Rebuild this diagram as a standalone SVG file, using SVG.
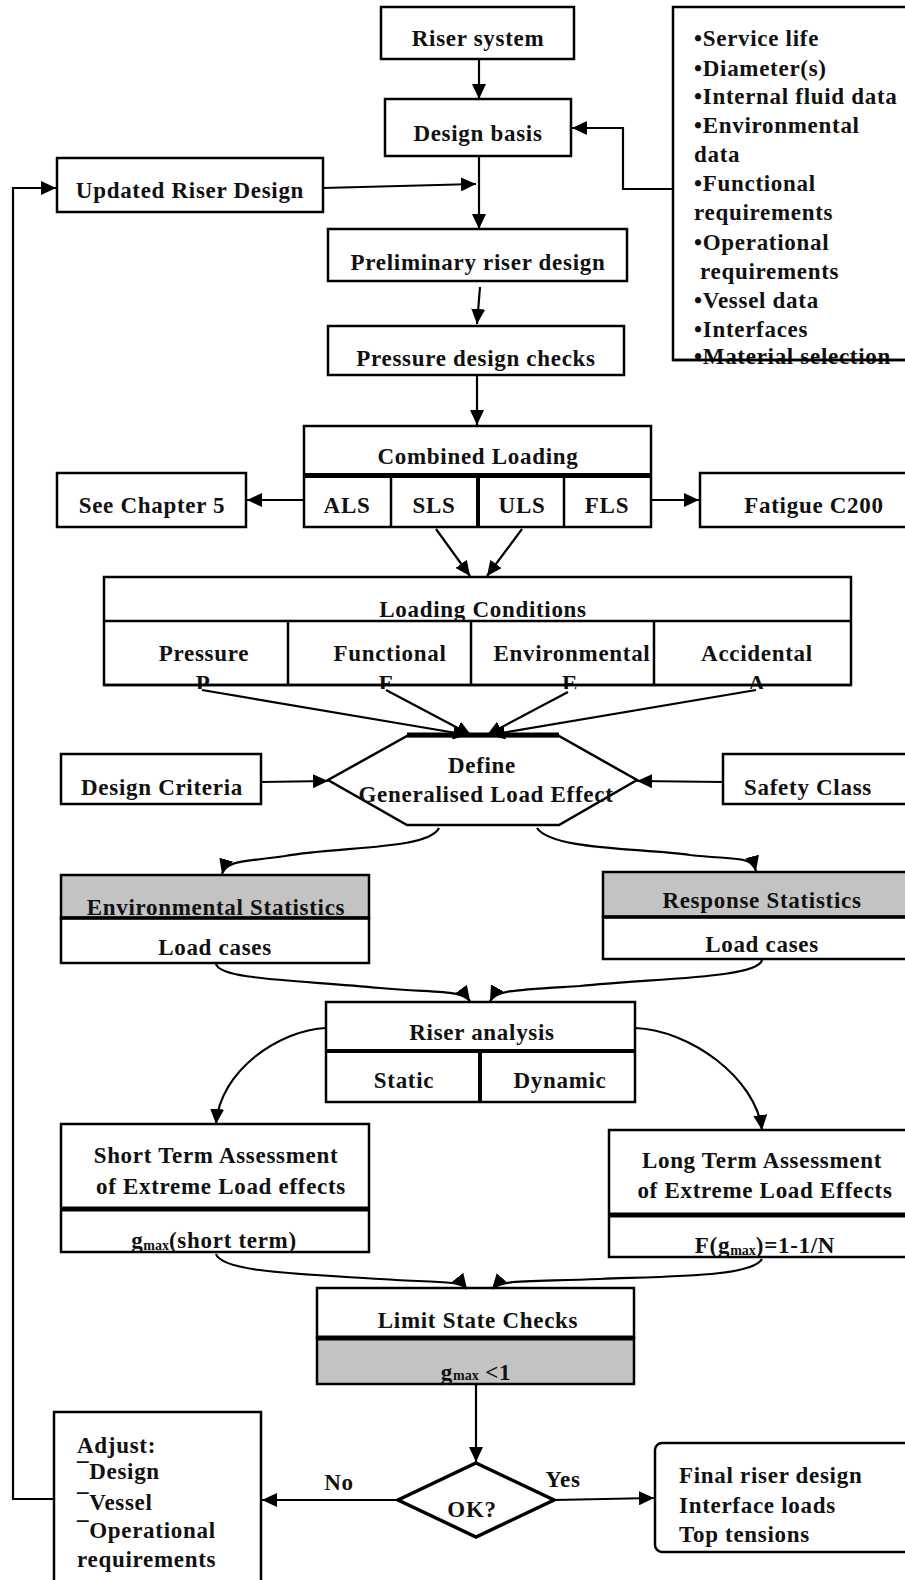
<svg xmlns="http://www.w3.org/2000/svg" width="905" height="1580" viewBox="0 0 905 1580">
<style>
.t{font-family:"Liberation Serif","Times New Roman",serif;font-weight:bold;font-size:23px;letter-spacing:0.7px;fill:#111;}
.c{text-anchor:middle;}
.sub{font-size:14px;letter-spacing:0;}
.b{fill:#fff;stroke:#000;stroke-width:2.5;}
.g{fill:#c3c3c3;stroke:#000;stroke-width:2.5;}
.ln{fill:none;stroke:#000;stroke-width:2.5;}
.thick{fill:none;stroke:#000;stroke-width:5;}
.cn{fill:none;stroke:#000;stroke-width:2.2;marker-end:url(#ah);}
</style>
<defs>
<marker id="ah" markerUnits="userSpaceOnUse" markerWidth="16" markerHeight="14" refX="15" refY="7" orient="auto">
<path d="M0,0 L15,7 L0,14 z" fill="#000"/>
</marker>
<clipPath id="lcclip"><rect x="100" y="570" width="760" height="119"/></clipPath>
</defs>
<rect width="905" height="1580" fill="#fff"/>

<g id="riser-system"><rect class="b" x="381" y="7" width="193" height="52"/><text class="t c" x="478" y="46">Riser system</text></g>
<g id="design-basis"><rect class="b" x="385" y="99" width="186" height="57"/><text class="t c" x="478" y="141">Design basis</text></g>
<g id="updated-riser-design"><rect class="b" x="57" y="158" width="266" height="54"/><text class="t c" x="190" y="198">Updated Riser Design</text></g>
<g id="basis-list"><rect class="b" x="673" y="7" width="245" height="353"/>
<text class="t" x="694" y="46">•Service life</text>
<text class="t" x="694" y="76">•Diameter(s)</text>
<text class="t" x="694" y="104">•Internal fluid data</text>
<text class="t" x="694" y="133">•Environmental</text>
<text class="t" x="694" y="162">data</text>
<text class="t" x="694" y="191">•Functional</text>
<text class="t" x="694" y="220">requirements</text>
<text class="t" x="694" y="250">•Operational</text>
<text class="t" x="700" y="279">requirements</text>
<text class="t" x="694" y="308">•Vessel data</text>
<text class="t" x="694" y="337">•Interfaces</text>
<text class="t" x="694" y="364">•Material selection</text>
<line class="ln" x1="673" y1="360" x2="905" y2="360"/>
</g>
<g id="preliminary"><rect class="b" x="328" y="229" width="299" height="52"/><text class="t c" x="478" y="270">Preliminary riser design</text></g>
<g id="pressure-checks"><rect class="b" x="328" y="326" width="296" height="49"/><text class="t c" x="476" y="366">Pressure design checks</text></g>

<g id="combined-loading">
<rect class="b" x="304" y="426" width="347" height="101"/>
<line class="thick" x1="304" y1="475.5" x2="651" y2="475.5"/>
<line class="ln" x1="391" y1="476" x2="391" y2="527"/>
<line class="thick" x1="478" y1="476" x2="478" y2="527" style="stroke-width:4"/>
<line class="ln" x1="564" y1="476" x2="564" y2="527"/>
<text class="t c" x="478" y="464">Combined Loading</text>
<text class="t c" x="347" y="513">ALS</text>
<text class="t c" x="434" y="513">SLS</text>
<text class="t c" x="522" y="513">ULS</text>
<text class="t c" x="607" y="513">FLS</text>
</g>
<g id="see-chapter-5"><rect class="b" x="57" y="473" width="189" height="54"/><text class="t c" x="152" y="513">See Chapter 5</text></g>
<g id="fatigue-c200"><rect class="b" x="700" y="473" width="215" height="54"/><text class="t c" x="814" y="513">Fatigue C200</text></g>

<g id="loading-conditions">
<rect class="b" x="104" y="577" width="747" height="108"/>
<line class="ln" x1="104" y1="621" x2="851" y2="621"/>
<line class="ln" x1="288" y1="621" x2="288" y2="685"/>
<line class="ln" x1="471" y1="621" x2="471" y2="685"/>
<line class="ln" x1="654" y1="621" x2="654" y2="685"/>
<text class="t c" x="483" y="617">Loading Conditions</text>
<text class="t c" x="204" y="661">Pressure</text>
<text class="t c" x="390" y="661">Functional</text>
<text class="t c" x="572" y="661">Environmental</text>
<text class="t c" x="757" y="661">Accidental</text>
<g clip-path="url(#lcclip)">
<text class="t c" x="203" y="691">P</text>
<text class="t c" x="386" y="691">F</text>
<text class="t c" x="570" y="691">E</text>
<text class="t c" x="757" y="691">A</text>
</g>
<line class="ln" x1="104" y1="685" x2="851" y2="685"/>
</g>

<g id="define-load-effect">
<polygon class="b" points="407,736 559,736 637,780 559,825 407,825 328,780"/>
<line class="thick" x1="407" y1="735" x2="559" y2="735"/>
<text class="t c" x="482" y="773">Define</text>
<text class="t c" x="486" y="802">Generalised Load Effect</text>
</g>
<g id="design-criteria"><rect class="b" x="61" y="754" width="200" height="50"/><text class="t c" x="162" y="795">Design Criteria</text></g>
<g id="safety-class"><rect class="b" x="723" y="754" width="195" height="50"/><text class="t c" x="808" y="795">Safety Class</text></g>

<g id="environmental-statistics">
<rect class="g" x="61" y="875" width="308" height="43"/>
<rect class="b" x="61" y="918" width="308" height="45"/>
<line class="ln" x1="61" y1="918" x2="369" y2="918" style="stroke-width:3.5"/>
<text class="t c" x="216" y="915">Environmental Statistics</text>
<text class="t c" x="215" y="955">Load cases</text>
</g>
<g id="response-statistics">
<rect class="g" x="603" y="872" width="310" height="45"/>
<rect class="b" x="603" y="917" width="310" height="42"/>
<line class="ln" x1="603" y1="917" x2="905" y2="917" style="stroke-width:3.5"/>
<text class="t c" x="762" y="908">Response Statistics</text>
<text class="t c" x="762" y="952">Load cases</text>
</g>

<g id="riser-analysis">
<rect class="b" x="326" y="1002" width="309" height="100"/>
<line class="thick" x1="326" y1="1051" x2="635" y2="1051" style="stroke-width:4"/>
<line class="thick" x1="480" y1="1051" x2="480" y2="1102" style="stroke-width:4"/>
<text class="t c" x="482" y="1040">Riser analysis</text>
<text class="t c" x="404" y="1088">Static</text>
<text class="t c" x="560" y="1088">Dynamic</text>
</g>

<g id="short-term">
<rect class="b" x="61" y="1124" width="308" height="128"/>
<line class="thick" x1="61" y1="1209" x2="369" y2="1209"/>
<text class="t c" x="216" y="1163">Short Term Assessment</text>
<text class="t c" x="221" y="1194">of Extreme Load effects</text>
<text class="t c" x="214" y="1248">g<tspan class="sub" dy="2">max</tspan><tspan dy="-2">(short term)</tspan></text>
</g>
<g id="long-term">
<rect class="b" x="609" y="1130" width="305" height="127"/>
<line class="thick" x1="609" y1="1215" x2="905" y2="1215"/>
<text class="t c" x="762" y="1168">Long Term Assessment</text>
<text class="t c" x="765" y="1198">of Extreme Load Effects</text>
<text class="t c" x="765" y="1253">F(g<tspan class="sub" dy="2">max</tspan><tspan dy="-2">)=1-1/N</tspan></text>
</g>

<g id="limit-state-checks">
<rect class="b" x="317" y="1288" width="317" height="50"/>
<rect class="g" x="317" y="1338" width="317" height="46"/>
<line class="thick" x1="317" y1="1338" x2="634" y2="1338"/>
<text class="t c" x="478" y="1328">Limit State Checks</text>
<text class="t c" x="476" y="1380">g<tspan class="sub">max</tspan> &lt;1</text>
</g>

<g id="ok-decision">
<polygon points="476,1463 554,1500 476,1537 398,1500" fill="#fff" stroke="#000" stroke-width="3.5"/>
<text class="t c" x="472" y="1517">OK?</text>
</g>
<g id="adjust">
<rect class="b" x="54" y="1412" width="207" height="180"/>
<text class="t" x="77" y="1453">Adjust:</text>
<text class="t" x="77" y="1479">¯Design</text>
<text class="t" x="77" y="1510">¯Vessel</text>
<text class="t" x="77" y="1538">¯Operational</text>
<text class="t" x="77" y="1567">requirements</text>
</g>
<g id="final-riser-design">
<rect class="b" x="655" y="1443" width="270" height="109" rx="7"/>
<text class="t" x="679" y="1483">Final riser design</text>
<text class="t" x="679" y="1513">Interface loads</text>
<text class="t" x="679" y="1542">Top tensions</text>
</g>

<g id="connectors">
<line class="cn" x1="479" y1="59" x2="479" y2="99"/>
<polyline class="cn" points="673,189 623,189 623,128 572,128"/>
<line class="cn" x1="479" y1="156" x2="479" y2="229"/>
<line class="cn" x1="323" y1="188" x2="476" y2="184"/>
<line class="cn" x1="480" y1="287" x2="477" y2="324"/>
<line class="cn" x1="477" y1="375" x2="477" y2="425"/>
<line class="cn" x1="304" y1="500" x2="247" y2="500"/>
<line class="cn" x1="651" y1="500" x2="699" y2="500"/>
<line class="cn" x1="436" y1="529" x2="470" y2="576"/>
<line class="cn" x1="522" y1="529" x2="487" y2="576"/>
<line class="cn" x1="202" y1="690" x2="468" y2="735"/>
<line class="cn" x1="386" y1="690" x2="471" y2="735"/>
<line class="cn" x1="568" y1="692" x2="487" y2="735"/>
<line class="cn" x1="756" y1="690" x2="490" y2="735"/>
<line class="cn" x1="261" y1="782" x2="328" y2="781"/>
<line class="cn" x1="723" y1="782" x2="637" y2="781"/>
<path class="cn" d="M439,828 C428,850 340,846 285,856 C245,862 226,860 222,874"/>
<path class="cn" d="M537,828 C552,850 640,848 690,855 C738,860 752,856 756,871"/>
<path class="cn" d="M216,964 C220,980 300,980 380,988 C440,993 462,990 470,1001"/>
<path class="cn" d="M762,960 C758,978 660,978 580,986 C515,990 496,990 490,1001"/>
<path class="cn" d="M326,1028 C280,1030 220,1070 216,1124"/>
<path class="cn" d="M635,1028 C690,1030 756,1078 762,1130"/>
<path class="cn" d="M216,1254 C222,1272 300,1274 380,1279 C440,1283 460,1280 467,1289"/>
<path class="cn" d="M762,1259 C752,1276 680,1276 600,1279 C520,1282 500,1280 492,1289"/>
<line class="cn" x1="476" y1="1385" x2="476" y2="1462"/>
<line class="cn" x1="398" y1="1500" x2="262" y2="1500"/>
<line class="cn" x1="554" y1="1500" x2="654" y2="1498"/>
<polyline class="cn" points="54,1499 13,1499 13,188 56,188"/>
<text class="t c" x="339" y="1490">No</text>
<text class="t c" x="563" y="1487">Yes</text>
</g>
</svg>
